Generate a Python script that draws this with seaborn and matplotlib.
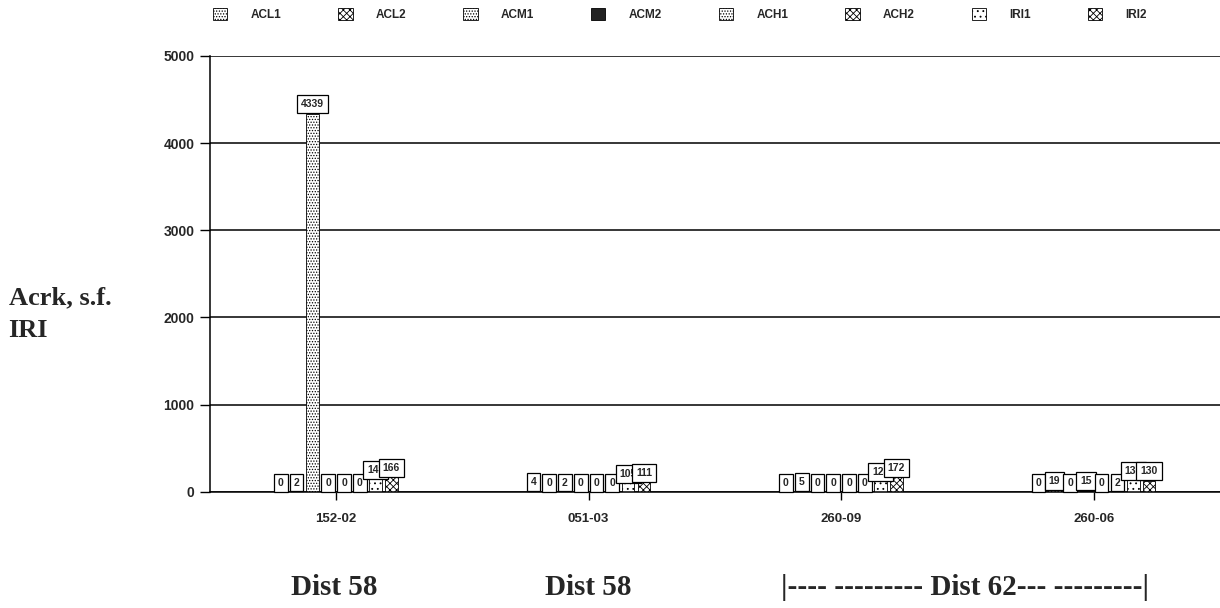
import seaborn as sns
import matplotlib.pyplot as plt
import pandas as pd

sections = ["152-02", "051-03", "260-09", "260-06"]
series = ["ACL1", "ACL2", "ACM1", "ACM2", "ACH1", "ACH2", "IRI1", "IRI2"]
legend_labels = ["ACL1", "ACL2", "ACM1", "ACM2", "ACH1", "ACH2", "IRI1", "IRI2"]

acl1 = [0, 4, 0, 0]
acl2 = [2, 0, 5, 19]
acm1 = [4339, 2, 0, 0]
acm2 = [0, 0, 0, 15]
ach1 = [0, 0, 0, 0]
ach2 = [0, 0, 0, 2]
iri1 = [149, 105, 123, 138]
iri2 = [166, 111, 172, 130]

districts = ["Dist 58", "Dist 58", "|---- --------- Dist 62--- ---------|"]

values = [acl1, acl2, acm1, acm2, ach1, ach2, iri1, iri2]
rows = []
for s, vals in zip(series, values):
    for sec, v in zip(sections, vals):
        rows.append({"section": sec, "series": s, "value": v})
df = pd.DataFrame(rows)

sns.set_theme(style="white")
plt.rcParams["font.family"] = ["Liberation Sans", "DejaVu Sans"]
plt.rcParams["hatch.linewidth"] = 0.6

fig = plt.figure(figsize=(12.2, 6.08), dpi=100)
ax = fig.add_axes([0.172, 0.191, 0.828, 0.717])

sns.barplot(data=df, x="section", y="value", hue="series", order=sections,
            hue_order=series, width=0.5, gap=0.2, legend=False, ax=ax,
            palette=["white"] * 8, edgecolor="black", linewidth=0.6)

hatches = ["......", "xxxxx", "......", "", "......", "xxxxx", "...", "xxxxx"]
faces = ["white", "white", "white", "#222222", "white", "white", "white", "white"]
for cont, h, fc in zip(ax.containers, hatches, faces):
    for p in cont.patches:
        p.set_hatch(h)
        p.set_facecolor(fc)
        p.set_edgecolor("black")
    ax.bar_label(cont, fmt="%d", padding=3, fontsize=7.5, fontweight="bold",
                 bbox=dict(boxstyle="square,pad=0.38", fc="white", ec="black", lw=0.9))

ax.set_ylim(0, 5000)
ax.set_xlim(-0.5, 3.5)
ax.set_yticks([0, 1000, 2000, 3000, 4000, 5000])
ax.yaxis.grid(True, color="black", linewidth=1.1)
ax.set_axisbelow(True)
for side in ["top", "right"]:
    ax.spines[side].set_visible(False)
for side in ["left", "bottom"]:
    ax.spines[side].set_color("black")
    ax.spines[side].set_linewidth(1.1)
ax.tick_params(axis="y", length=7, width=1, color="black", labelsize=10,
               direction="out", left=True, pad=4)
ax.tick_params(axis="x", length=6, width=1, color="black", labelsize=9.5,
               direction="out", bottom=True, pad=9)
for t in ax.get_xticklabels() + ax.get_yticklabels():
    t.set_fontweight("bold")
ax.set_xlabel("")
ax.set_ylabel("")

fig.text(0.007, 0.483, "Acrk, s.f.\nIRI", family=["Liberation Serif"], fontsize=19,
         fontweight="bold", ha="left", va="center", linespacing=1.55)

fig.text(0.274, 0.033, districts[0], family=["Liberation Serif"], fontsize=21,
         fontweight="bold", ha="center", va="center")
fig.text(0.482, 0.033, districts[1], family=["Liberation Serif"], fontsize=21,
         fontweight="bold", ha="center", va="center")
fig.text(0.791, 0.033, districts[2], family=["Liberation Serif"], fontsize=21,
         fontweight="bold", ha="center", va="center")

leg = ax.legend(handles=ax.containers, labels=legend_labels, ncol=8,
                loc="upper left", bbox_to_anchor=(0.166, 1.005),
                bbox_transform=fig.transFigure, frameon=False,
                prop={"size": 8.5, "weight": "bold"}, handlelength=1.2,
                handleheight=1.2, handletextpad=2.0, columnspacing=4.8)

plt.savefig("out.png", dpi=100)
